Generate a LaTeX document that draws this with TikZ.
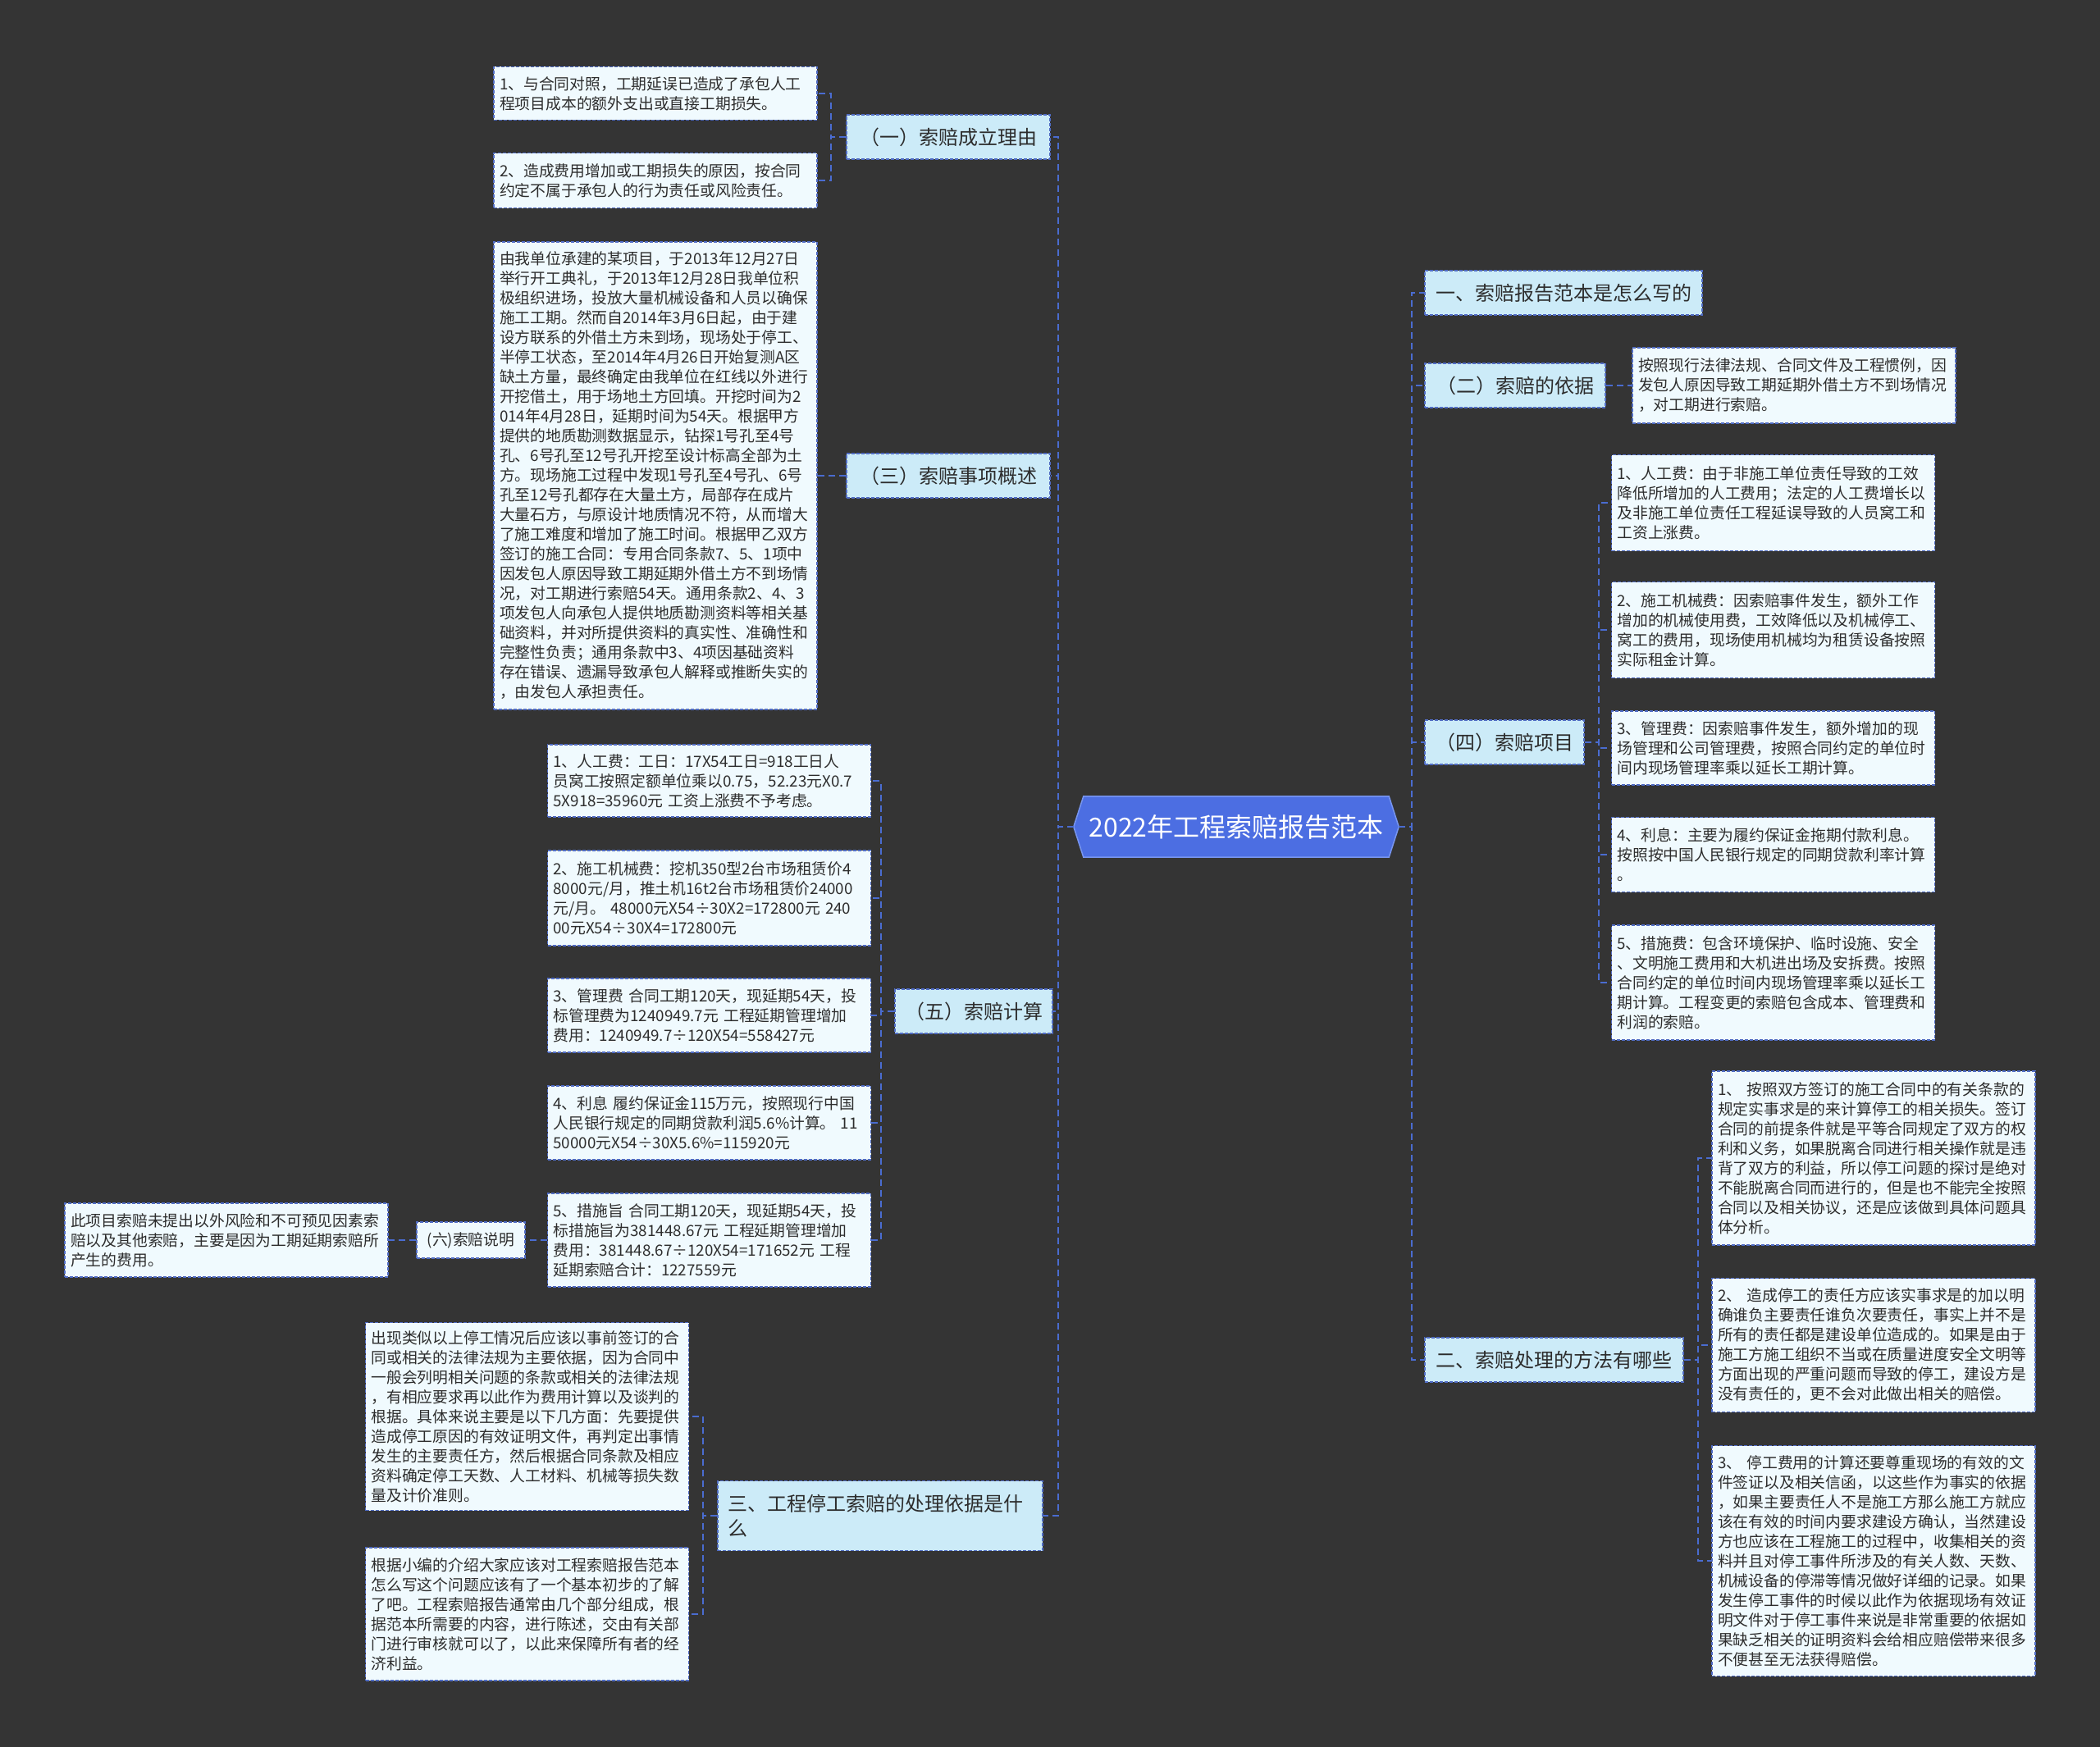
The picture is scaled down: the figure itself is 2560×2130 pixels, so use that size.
\documentclass[tikz,border=0pt]{standalone}
\usepackage{fontspec}
\setmainfont{Noto Sans CJK SC}
\usetikzlibrary{calc}
\pgfdeclarelayer{back}
\pgfdeclarelayer{background}
\pgfsetlayers{back,background,main}
\definecolor{bgcol}{RGB}{52,52,52}
\definecolor{linkblue}{RGB}{74,108,208}
\definecolor{boxborder}{RGB}{80,108,196}
\definecolor{leaffill}{RGB}{240,250,254}
\definecolor{topicfill}{RGB}{204,235,248}
\definecolor{rootfill}{RGB}{76,110,226}
\definecolor{rootline}{RGB}{120,150,240}
\definecolor{txt}{RGB}{45,45,45}
\tikzset{
  leafbox/.style={draw=boxborder, line width=1.5pt, dash pattern=on 4pt off 2pt, fill=leaffill, text=txt,
    font=\fontsize{18.8}{24}\selectfont, text width=380pt, align=left, inner xsep=7pt, inner ysep=6pt},
  smallbox/.style={draw=boxborder, line width=1.5pt, dash pattern=on 4pt off 2pt, fill=leaffill, text=txt,
    font=\fontsize{18.8}{24}\selectfont, inner sep=0pt},
  topicbox/.style={draw=boxborder, line width=1.5pt, dash pattern=on 4pt off 2pt, fill=topicfill, text=txt,
    font=\fontsize{24}{30}\selectfont, inner xsep=12pt, inner ysep=0pt, minimum height=54pt},
  rootbox/.style={text=white, font=\fontsize{32}{38}\selectfont, inner sep=0pt, minimum width=396pt, minimum height=74pt},
  link/.style={draw=linkblue, line width=2pt, dash pattern=on 8pt off 5pt},
}
\begin{document}
\begin{tikzpicture}[x=1pt,y=-1pt]
\begin{pgfonlayer}{back}
\fill[bgcol] (0,0) rectangle (2560,2130);
\end{pgfonlayer}
\useasboundingbox (0,0) rectangle (2560,2130);

% root
\node[rootbox] (root) at (1507,1008) {2022年工程索赔报告范本};
\begin{pgfonlayer}{background}
\filldraw[fill=rootfill, draw=rootline, line width=1.5pt] (root.west) -- ($(root.north west)+(12,0)$) -- ($(root.north east)+(-12,0)$) -- (root.east) -- ($(root.south east)+(-12,0)$) -- ($(root.south west)+(12,0)$) -- cycle;
\end{pgfonlayer}

% left topics
\node[topicbox, minimum width=248pt] (n1) at (1156,167) {（一）索赔成立理由};
\node[topicbox, minimum width=248pt] (n3) at (1156,580) {（三）索赔事项概述};
\node[topicbox, minimum width=186pt] (n5) at (1187,1233) {（五）索赔计算};
\node[topicbox, text width=372pt, align=left, minimum height=85pt] (ns) at (1073,1848) {三、工程停工索赔的处理依据是什\\么};

% left leaves
\node[leafbox, minimum height=65pt] (l1a) at (799,114) {1、与合同对照，工期延误已造成了承包人工\\
程项目成本的额外支出或直接工期损失。};
\node[leafbox, minimum height=67pt] (l1b) at (799,220) {2、造成费用增加或工期损失的原因，按合同\\
约定不属于承包人的行为责任或风险责任。};
\node[leafbox, minimum height=570pt] (l3) at (799,580) {由我单位承建的某项目，于2013年12月27日\\
举行开工典礼，于2013年12月28日我单位积\\
极组织进场，投放大量机械设备和人员以确保\\
施工工期。然而自2014年3月6日起，由于建\\
设方联系的外借土方未到场，现场处于停工、\\
半停工状态，至2014年4月26日开始复测A区\\
缺土方量，最终确定由我单位在红线以外进行\\
开挖借土，用于场地土方回填。开挖时间为2\\
014年4月28日，延期时间为54天。根据甲方\\
提供的地质勘测数据显示，钻探1号孔至4号\\
孔、6号孔至12号孔开挖至设计标高全部为土\\
方。现场施工过程中发现1号孔至4号孔、6号\\
孔至12号孔都存在大量土方，局部存在成片\\
大量石方，与原设计地质情况不符，从而增大\\
了施工难度和增加了施工时间。根据甲乙双方\\
签订的施工合同：专用合同条款7、5、1项中\\
因发包人原因导致工期延期外借土方不到场情\\
况，对工期进行索赔54天。通用条款2、4、3\\
项发包人向承包人提供地质勘测资料等相关基\\
础资料，并对所提供资料的真实性、准确性和\\
完整性负责；通用条款中3、4项因基础资料\\
存在错误、遗漏导致承包人解释或推断失实的\\
，由发包人承担责任。};
\node[leafbox, minimum height=88pt] (l5a) at (864.5,952) {1、人工费：工日：17X54工日=918工日人\\
员窝工按照定额单位乘以0.75，52.23元X0.7\\
5X918=35960元 工资上涨费不予考虑。};
\node[leafbox, minimum height=116pt] (l5b) at (864.5,1095) {2、施工机械费：挖机350型2台市场租赁价4\\
8000元/月，推土机16t2台市场租赁价24000\\
元/月。 48000元X54÷30X2=172800元 240\\
00元X54÷30X4=172800元};
\node[leafbox, minimum height=90pt] (l5c) at (864.5,1238) {3、管理费 合同工期120天，现延期54天，投\\
标管理费为1240949.7元 工程延期管理增加\\
费用：1240949.7÷120X54=558427元};
\node[leafbox, minimum height=90pt] (l5d) at (864.5,1369) {4、利息 履约保证金115万元，按照现行中国\\
人民银行规定的同期贷款利润5.6\%计算。 11\\
50000元X54÷30X5.6\%=115920元};
\node[leafbox, minimum height=114pt] (l5e) at (864.5,1512) {5、措施旨 合同工期120天，现延期54天，投\\
标措施旨为381448.67元 工程延期管理增加\\
费用：381448.67÷120X54=171652元 工程\\
延期索赔合计：1227559元};
\node[smallbox, minimum width=132pt, minimum height=44pt] (n6) at (574,1512) {(六)索赔说明};
\node[leafbox, minimum height=90pt] (l6) at (276,1512) {此项目索赔未提出以外风险和不可预见因素索\\
赔以及其他索赔，主要是因为工期延期索赔所\\
产生的费用。};
\node[leafbox, minimum height=229pt] (lsa) at (642.5,1727) {出现类似以上停工情况后应该以事前签订的合\\
同或相关的法律法规为主要依据，因为合同中\\
一般会列明相关问题的条款或相关的法律法规\\
，有相应要求再以此作为费用计算以及谈判的\\
根据。具体来说主要是以下几方面：先要提供\\
造成停工原因的有效证明文件，再判定出事情\\
发生的主要责任方，然后根据合同条款及相应\\
资料确定停工天数、人工材料、机械等损失数\\
量及计价准则。};
\node[leafbox, minimum height=162pt] (lsb) at (642.5,1968) {根据小编的介绍大家应该对工程索赔报告范本\\
怎么写这个问题应该有了一个基本初步的了解\\
了吧。工程索赔报告通常由几个部分组成，根\\
据范本所需要的内容，进行陈述，交由有关部\\
门进行审核就可以了，以此来保障所有者的经\\
济利益。};

% right topics
\node[topicbox, minimum width=338pt] (r1) at (1906,357) {一、索赔报告范本是怎么写的};
\node[topicbox, minimum width=220pt] (r2) at (1847,470) {（二）索赔的依据};
\node[topicbox, minimum width=194pt] (r4) at (1834,905) {（四）索赔项目};
\node[topicbox, minimum width=315pt] (r5) at (1894.5,1658) {二、索赔处理的方法有哪些};

% right leaves
\node[leafbox, minimum height=92pt] (r2l) at (2187,470) {按照现行法律法规、合同文件及工程惯例，因\\
发包人原因导致工期延期外借土方不到场情况\\
，对工期进行索赔。};
\node[leafbox, minimum height=117pt] (l4a) at (2161.5,613) {1、人工费：由于非施工单位责任导致的工效\\
降低所增加的人工费用；法定的人工费增长以\\
及非施工单位责任工程延误导致的人员窝工和\\
工资上涨费。};
\node[leafbox, minimum height=117pt] (l4b) at (2161.5,768) {2、施工机械费：因索赔事件发生，额外工作\\
增加的机械使用费，工效降低以及机械停工、\\
窝工的费用，现场使用机械均为租赁设备按照\\
实际租金计算。};
\node[leafbox, minimum height=90pt] (l4c) at (2161.5,912) {3、管理费：因索赔事件发生，额外增加的现\\
场管理和公司管理费，按照合同约定的单位时\\
间内现场管理率乘以延长工期计算。};
\node[leafbox, minimum height=91pt] (l4d) at (2161.5,1042) {4、利息：主要为履约保证金拖期付款利息。\\
按照按中国人民银行规定的同期贷款利率计算\\
。};
\node[leafbox, minimum height=140pt] (l4e) at (2161.5,1198) {5、措施费：包含环境保护、临时设施、安全\\
、文明施工费用和大机进出场及安拆费。按照\\
合同约定的单位时间内现场管理率乘以延长工\\
期计算。工程变更的索赔包含成本、管理费和\\
利润的索赔。};
\node[leafbox, minimum height=212pt] (lba) at (2284,1412) {1、 按照双方签订的施工合同中的有关条款的\\
规定实事求是的来计算停工的相关损失。签订\\
合同的前提条件就是平等合同规定了双方的权\\
利和义务，如果脱离合同进行相关操作就是违\\
背了双方的利益，所以停工问题的探讨是绝对\\
不能脱离合同而进行的，但是也不能完全按照\\
合同以及相关协议，还是应该做到具体问题具\\
体分析。};
\node[leafbox, minimum height=163pt] (lbb) at (2284,1640) {2、 造成停工的责任方应该实事求是的加以明\\
确谁负主要责任谁负次要责任，事实上并不是\\
所有的责任都是建设单位造成的。如果是由于\\
施工方施工组织不当或在质量进度安全文明等\\
方面出现的严重问题而导致的停工，建设方是\\
没有责任的，更不会对此做出相关的赔偿。};
\node[leafbox, minimum height=281pt] (lbc) at (2284,1903) {3、 停工费用的计算还要尊重现场的有效的文\\
件签证以及相关信函，以这些作为事实的依据\\
，如果主要责任人不是施工方那么施工方就应\\
该在有效的时间内要求建设方确认，当然建设\\
方也应该在工程施工的过程中，收集相关的资\\
料并且对停工事件所涉及的有关人数、天数、\\
机械设备的停滞等情况做好详细的记录。如果\\
发生停工事件的时候以此作为依据现场有效证\\
明文件对于停工事件来说是非常重要的依据如\\
果缺乏相关的证明资料会给相应赔偿带来很多\\
不便甚至无法获得赔偿。};

% connectors
\begin{pgfonlayer}{background}
\foreach \t in {n1,n3,n5,ns} \draw[link] (root.west) -- ++(-19,0) |- (\t.east);
\foreach \t in {r1,r2,r4,r5} \draw[link] (root.east) -- ++(16,0) |- (\t.west);
\foreach \t in {l1a,l1b} \draw[link] (n1.west) -- ++(-18,0) |- (\t.east);
\draw[link] (n3.west) -- (l3.east);
\foreach \t in {l5a,l5b,l5c,l5d,l5e} \draw[link] (n5.west) -- ++(-16.5,0) |- (\t.east);
\draw[link] (l5e.west) -- (n6.east);
\draw[link] (n6.west) -- (l6.east);
\foreach \t in {lsa,lsb} \draw[link] (ns.west) -- ++(-17,0) |- (\t.east);
\draw[link] (r2.east) -- (r2l.west);
\foreach \t in {l4a,l4b,l4c,l4d,l4e} \draw[link] (r4.east) -- ++(17,0) |- (\t.west);
\foreach \t in {lba,lbb,lbc} \draw[link] (r5.east) -- ++(17,0) |- (\t.west);
\end{pgfonlayer}
\end{tikzpicture}
\end{document}
